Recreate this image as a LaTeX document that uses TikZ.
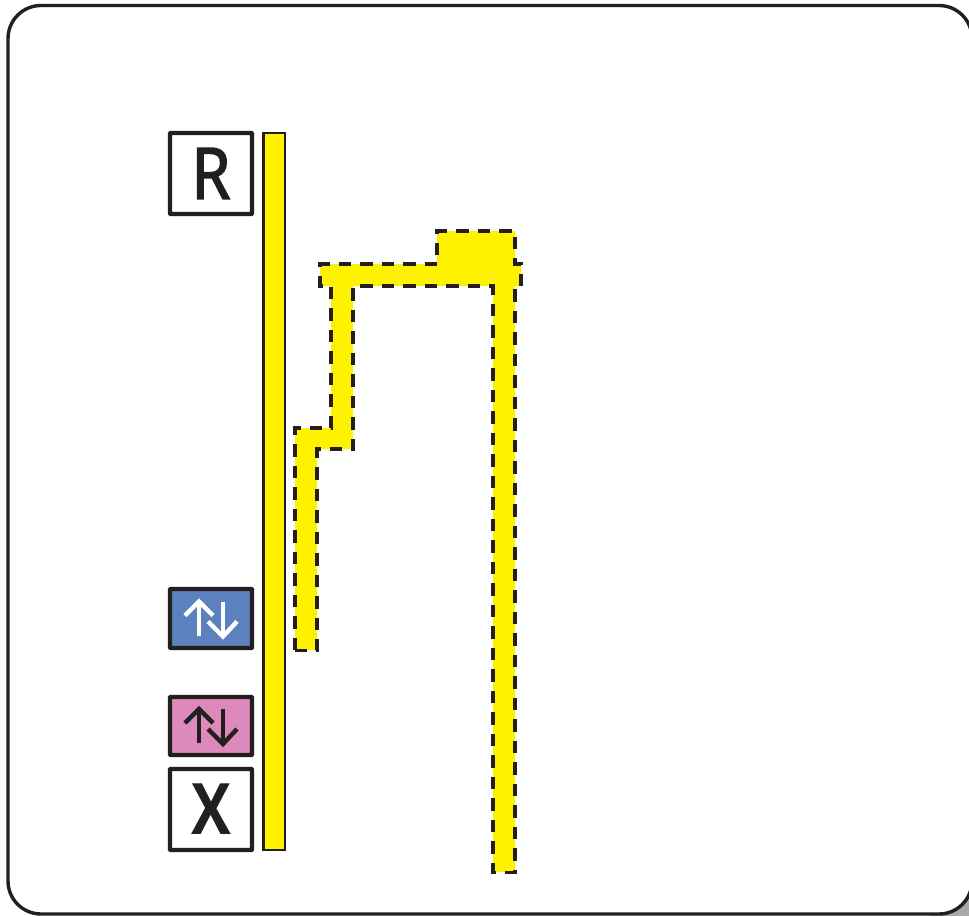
\documentclass[tikz,border=0pt]{standalone}
\usepackage{fontspec}
\setmainfont{Open Sans}
\newfontfamily\rfont[FakeBold=2.5,FakeStretch=0.88]{Open Sans}
\newfontfamily\xfont[FakeStretch=0.84]{Open Sans Bold}
\definecolor{ink}{HTML}{231F20}
\definecolor{signyellow}{HTML}{FFF200}
\definecolor{signblue}{HTML}{5B82BE}
\definecolor{signpink}{HTML}{DD89BB}
\definecolor{shadowgray}{HTML}{A7A9AC}
\tikzset{
  panel/.style={draw=ink,line width=3.4pt,rounded corners=33pt,fill=white},
  signbox/.style={draw=ink,line width=4.4pt,rounded corners=0.8pt,minimum width=82pt,inner sep=0pt,outer sep=0pt,text=ink},
  solidbar/.style={draw=ink,line width=2.3pt,fill=signyellow},
  dashedbar/.style={draw=ink,line width=3.02pt,fill=signyellow,dash pattern=on 12.5pt off 9pt},
  arrowicon/.style={line width=4.4pt,line cap=butt,miter limit=10},
}
\newcommand{\updownicon}[2]{%
  \draw[arrowicon,draw=#2] ([shift={(-12,17)}]#1.center) -- ([shift={(-12,-17)}]#1.center);
  \draw[arrowicon,draw=#2] ([shift={(-26,-3)}]#1.center) -- ([shift={(-12,-17)}]#1.center) -- ([shift={(2,-3)}]#1.center);
  \draw[arrowicon,draw=#2] ([shift={(12,-17)}]#1.center) -- ([shift={(12,18)}]#1.center);
  \draw[arrowicon,draw=#2] ([shift={(-3,3)}]#1.center) -- ([shift={(12,18)}]#1.center) -- ([shift={(26,3)}]#1.center);
}
\begin{document}
\begin{tikzpicture}[x=1pt,y=-1pt]
\useasboundingbox (0,0) rectangle (969,916);
\fill[white] (0,0) rectangle (969,916);
\fill[shadowgray] (930,880) rectangle (969,916);
\draw[panel] (8,5.5) rectangle (972,914);
\node[signbox,minimum height=81pt,fill=white,font=\rfont\fontsize{71}{71}\selectfont] (rbox) at (211,173.5) {R};
\node[signbox,minimum height=59pt,fill=signblue] (bluebox) at (211,618.5) {};
\node[signbox,minimum height=58pt,fill=signpink] (pinkbox) at (211,726) {};
\node[signbox,minimum height=81pt,fill=white,font=\xfont\fontsize{71}{71}\selectfont] (xbox) at (211,809.5) {X};
\updownicon{bluebox}{white}
\updownicon{pinkbox}{ink}
\draw[solidbar] (263.5,133) rectangle (285,850);
\draw[dashedbar] (295,650) -- (295,428) -- (331,428) -- (331,286) -- (320,286) -- (320,264)
  -- (437,264) -- (437,231) -- (515,231) -- (515,264) -- (521,264) -- (521,286) -- (515,286)
  -- (515,872) -- (493,872) -- (493,286) -- (353,286) -- (353,449) -- (317,449) -- (317,650) -- cycle;
\end{tikzpicture}
\end{document}
